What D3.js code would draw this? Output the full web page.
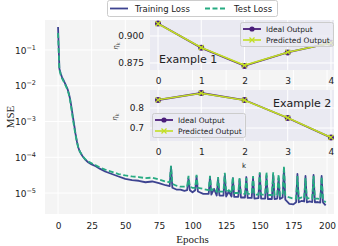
<!DOCTYPE html>
<html>
<head>
<meta charset="utf-8">
<script src="https://cdn.jsdelivr.net/npm/d3@7"></script>
<style>
  body { margin: 0; background: #fff; }
  svg { display: block; font-family: "DejaVu Sans", sans-serif; }
</style>
</head>
<body>
<div id="chart"></div>
<script>
var width = 338, height = 246;

// main loss curves
var epochs = [0,1,2,3,4,5,6,7,8,9,10,11,12,13,14,15,16,18,20,22,25,28,31,35,40,45,50,55,60,65,70,75,80,
  83,84,85,88,91,94,96,97,98,100,102,103,104,108,112,113,114,116,118,119,120,123,124,125,127,129,130,131,
  134,135,136,139,140,141,144,145,146,149,150,151,154,155,156,159,160,161,163,164,165,167,168,169,172,175,
  177,178,179,181,183,184,185,187,189,190,191,193,195,196,197,199];
var trainLoss = [0.44,0.03,0.022,0.017,0.0145,0.012,0.01,0.0082,0.0062,0.0042,0.0025,0.0014,8e-4,4.5e-4,2.8e-4,1.9e-4,1.5e-4,1.1e-4,8.8e-5,7.4e-5,6.3e-5,5.6e-5,4.8e-5,4.0e-5,3.4e-5,2.9e-5,2.5e-5,2.3e-5,2.2e-5,2.0e-5,2.1e-5,1.9e-5,1.65e-5,
  1.55e-5,5.5e-5,1.4e-5,1.25e-5,1.25e-5,1.15e-5,1.2e-5,2.6e-5,1.2e-5,1.05e-5,1.2e-5,2.9e-5,1.1e-5,9.5e-6,9.5e-6,2.8e-5,9e-6,1.3e-5,8.5e-6,2.5e-5,8.5e-6,8.5e-6,3.2e-5,8e-6,1.1e-5,8e-6,2.6e-5,7.8e-6,
  7.8e-6,2.4e-5,7.5e-6,7.5e-6,2.8e-5,7.3e-6,7.3e-6,2.6e-5,7e-6,7.2e-6,3.5e-5,7e-6,7e-6,3.0e-5,6.8e-6,6.8e-6,3.2e-5,6.8e-6,7e-6,2.6e-5,6.8e-6,7.5e-6,4.8e-5,6.5e-6,5e-6,4.8e-6,
  5.5e-6,3.4e-5,5.5e-6,6e-6,5.8e-6,3.0e-5,5.5e-6,5.8e-6,5.6e-6,3.2e-5,5.5e-6,5.6e-6,5.4e-6,3.0e-5,5.5e-6,4.5e-6];
var testLoss = [0.3,0.028,0.02,0.016,0.0135,0.0115,0.0095,0.0078,0.0058,0.0038,0.0022,0.0012,7e-4,4.2e-4,2.7e-4,1.9e-4,1.5e-4,1.1e-4,9e-5,7.8e-5,6.8e-5,6.0e-5,5.2e-5,4.5e-5,3.9e-5,3.4e-5,3.1e-5,2.9e-5,2.8e-5,2.6e-5,2.7e-5,2.4e-5,2.1e-5,
  2.0e-5,5.8e-5,1.8e-5,1.6e-5,1.5e-5,1.5e-5,1.5e-5,3.0e-5,1.5e-5,1.4e-5,1.4e-5,3.2e-5,1.4e-5,1.3e-5,1.2e-5,3.0e-5,1.2e-5,1.3e-5,1.1e-5,2.8e-5,1.1e-5,1.1e-5,3.7e-5,1.05e-5,1.2e-5,1.0e-5,2.8e-5,1.0e-5,
  1.0e-5,2.6e-5,9.5e-6,9.5e-6,2.6e-5,9.5e-6,9.5e-6,3.0e-5,9e-6,9e-6,3.8e-5,9e-6,9e-6,3.9e-5,8.8e-6,8.8e-6,3.8e-5,8.6e-6,8.8e-6,3.3e-5,8.5e-6,9e-6,5.6e-5,8.5e-6,7.5e-6,7e-6,
  7e-6,3.0e-5,7e-6,7.5e-6,7.2e-6,2.6e-5,7e-6,7.2e-6,7e-6,3.0e-5,7e-6,7e-6,6.8e-6,2.8e-5,6.5e-6,5.5e-6];
var epochTicks = [0,25,50,75,100,125,150,175,200];
var mseTicks = [1e-5,1e-4,1e-3,1e-2,1e-1];

// inset examples
var kValues = [0,1,2,3,4];
var ideal1 = [0.9116,0.889,0.8723,0.8848,0.8937];
var pred1 = [0.9113,0.8893,0.8728,0.885,0.8935];
var ideal2 = [0.84,0.875,0.84,0.75,0.652];
var pred2 = [0.841,0.874,0.839,0.751,0.653];
var ticks1 = [0.875,0.900];
var ticks2 = [0.7,0.8];

var trainColor = "#3d4390", testColor = "#27ab82";
var idealColor = "#4a1d7a", predColor = "#c2df23";

var svg = d3.select("#chart").append("svg")
  .attr("width", width)
  .attr("height", height);

svg.append("rect").attr("width", width).attr("height", height).attr("fill", "#fff");

// main axes
var plotL = 45, plotR = 334, plotT = 20, plotB = 214;
var xScale = d3.scaleLinear().domain([-9.7, 205.2]).range([plotL, plotR]);
var yScale = d3.scaleLog().domain([Math.pow(10,-5.587), Math.pow(10,-0.161)]).range([plotB, plotT]);

svg.append("rect")
  .attr("x", plotL).attr("y", plotT)
  .attr("width", plotR - plotL).attr("height", plotB - plotT)
  .attr("fill", "#f4f4f4");

svg.append("g")
  .selectAll("line").data(epochTicks).enter().append("line")
  .attr("x1", function(d) { return xScale(d); })
  .attr("x2", function(d) { return xScale(d); })
  .attr("y1", plotT).attr("y2", plotB)
  .attr("stroke", "#fff").attr("stroke-width", 1);
svg.append("g")
  .selectAll("line").data(mseTicks).enter().append("line")
  .attr("x1", plotL).attr("x2", plotR)
  .attr("y1", function(d) { return yScale(d); })
  .attr("y2", function(d) { return yScale(d); })
  .attr("stroke", "#fff").attr("stroke-width", 1);

var xAxis = svg.append("g")
  .attr("transform", "translate(0," + plotB + ")")
  .call(d3.axisBottom(xScale).tickValues(epochTicks).tickSize(0).tickPadding(9));
xAxis.select(".domain").remove();
xAxis.selectAll("text").style("font-size", "9px").style("font-family", "DejaVu Sans").attr("fill", "#222");

var yAxis = svg.append("g")
  .attr("transform", "translate(" + plotL + ",0)")
  .call(d3.axisLeft(yScale).tickValues(mseTicks).tickSize(0).tickFormat(""));
yAxis.select(".domain").remove();
yAxis.selectAll(".tick").each(function(d) {
  var t = d3.select(this).append("text")
    .attr("x", -9).attr("dy", "0.35em")
    .attr("text-anchor", "end")
    .style("font-size", "9px").style("font-family", "DejaVu Sans")
    .attr("fill", "#222");
  t.append("tspan").text("10");
  t.append("tspan").attr("dy", "-4").style("font-size", "6.5px")
    .text("\u2212" + Math.round(-Math.log10(d)));
});

svg.append("text")
  .text("Epochs")
  .attr("x", (xScale(0) + xScale(200)) / 2).attr("y", 243)
  .attr("text-anchor", "middle")
  .style("font-family", "Liberation Serif").style("font-size", "11px")
  .attr("fill", "#222");
svg.append("text")
  .text("MSE")
  .attr("transform", "translate(14,117) rotate(-90)")
  .attr("text-anchor", "middle")
  .style("font-family", "Liberation Serif").style("font-size", "11px")
  .attr("fill", "#222");

var lossLine = function(values) {
  return d3.line()
    .x(function(d, i) { return xScale(epochs[i]); })
    .y(function(d) { return yScale(d); })(values);
};
svg.append("path").attr("d", lossLine(trainLoss))
  .attr("fill", "none").attr("stroke", trainColor).attr("stroke-width", 1.8)
  .attr("stroke-linejoin", "round");
svg.append("path").attr("d", lossLine(testLoss))
  .attr("fill", "none").attr("stroke", testColor).attr("stroke-width", 1.8)
  .attr("stroke-dasharray", "5,2.5");

// top legend
var lg = svg.append("g");
lg.append("rect").attr("x", 107.5).attr("y", 0.5).attr("width", 170).attr("height", 16)
  .attr("rx", 2).attr("fill", "#fff").attr("stroke", "#ccc");
lg.append("line").attr("x1", 110).attr("x2", 128).attr("y1", 8.5).attr("y2", 8.5)
  .attr("stroke", trainColor).attr("stroke-width", 1.8);
lg.append("text").text("Training Loss").attr("x", 135).attr("y", 11.5)
  .style("font-size", "8.5px").attr("fill", "#222");
lg.append("line").attr("x1", 205).attr("x2", 225).attr("y1", 8.5).attr("y2", 8.5)
  .attr("stroke", testColor).attr("stroke-width", 1.8).attr("stroke-dasharray", "5,2.5");
lg.append("text").text("Test Loss").attr("x", 234).attr("y", 11.5)
  .style("font-size", "8.5px").attr("fill", "#222");

// inset helper
function drawInset(y0, y1, yDomain, yTicks, tickFmt, ideal, pred, labelX, labelY, legendX, legendY) {
  var ix = d3.scaleLinear().domain([-0.185, 4.07]).range([150, 334]);
  var iy = d3.scaleLinear().domain(yDomain).range([y1, y0]);
  var g = svg.append("g");
  g.append("rect").attr("x", 150).attr("y", y0).attr("width", 184).attr("height", y1 - y0)
    .attr("fill", "#eaeaf2");
  g.selectAll(".vg").data(kValues).enter().append("line")
    .attr("x1", function(d) { return ix(d); }).attr("x2", function(d) { return ix(d); })
    .attr("y1", y0).attr("y2", y1).attr("stroke", "#fff").attr("stroke-width", 1);
  g.selectAll(".hg").data(yTicks).enter().append("line")
    .attr("x1", 150).attr("x2", 334)
    .attr("y1", function(d) { return iy(d); }).attr("y2", function(d) { return iy(d); })
    .attr("stroke", "#fff").attr("stroke-width", 1);

  var ax = g.append("g").attr("transform", "translate(0," + y1 + ")")
    .call(d3.axisBottom(ix).tickValues(kValues).tickSize(0).tickPadding(8).tickFormat(d3.format("d")));
  ax.select(".domain").remove();
  ax.selectAll("text").style("font-size", "9px").style("font-family", "DejaVu Sans").attr("fill", "#222");
  var ay = g.append("g").attr("transform", "translate(150,0)")
    .call(d3.axisLeft(iy).tickValues(yTicks).tickSize(0).tickPadding(6).tickFormat(d3.format(tickFmt)));
  ay.select(".domain").remove();
  ay.selectAll("text").style("font-size", "9px").style("font-family", "DejaVu Sans").attr("fill", "#222");

  var eta = g.append("text")
    .attr("transform", "translate(" + labelX + "," + labelY + ") rotate(-90)")
    .attr("text-anchor", "middle")
    .style("font-size", "7px").attr("fill", "#333");
  eta.append("tspan").text("\u03b7").style("font-style", "italic");
  eta.append("tspan").text("k").attr("dy", 2).style("font-size", "5px");

  var line = d3.line().x(function(d, i) { return ix(kValues[i]); }).y(function(d) { return iy(d); });
  g.append("path").attr("d", line(ideal)).attr("fill", "none")
    .attr("stroke", idealColor).attr("stroke-width", 1.8);
  g.selectAll(".dot").data(ideal).enter().append("circle")
    .attr("cx", function(d, i) { return ix(kValues[i]); })
    .attr("cy", function(d) { return iy(d); })
    .attr("r", 3).attr("fill", idealColor);
  g.append("path").attr("d", line(pred)).attr("fill", "none")
    .attr("stroke", predColor).attr("stroke-width", 1.6);
  g.selectAll(".xm").data(pred).enter().append("path")
    .attr("d", function(d, i) {
      var cx = ix(kValues[i]), cy = iy(d), s = 2.5;
      return "M" + (cx - s) + "," + (cy - s) + "L" + (cx + s) + "," + (cy + s) +
        "M" + (cx - s) + "," + (cy + s) + "L" + (cx + s) + "," + (cy - s);
    })
    .attr("stroke", predColor).attr("stroke-width", 1.2);

  // legend
  var l = g.append("g").attr("transform", "translate(" + legendX + "," + legendY + ")");
  l.append("rect").attr("x", 0.5).attr("y", 0.5).attr("width", 93).attr("height", 24).attr("rx", 2)
    .attr("fill", "#eaeaf2").attr("fill-opacity", 0.8).attr("stroke", "#ccc");
  l.append("line").attr("x1", 3).attr("x2", 21).attr("y1", 7).attr("y2", 7)
    .attr("stroke", idealColor).attr("stroke-width", 1.8);
  l.append("circle").attr("cx", 12).attr("cy", 7).attr("r", 2.6).attr("fill", idealColor);
  l.append("text").text("Ideal Output").attr("x", 26).attr("y", 9.8)
    .style("font-size", "7.5px").attr("fill", "#222");
  l.append("line").attr("x1", 3).attr("x2", 21).attr("y1", 18).attr("y2", 18)
    .attr("stroke", predColor).attr("stroke-width", 1.6);
  l.append("path").attr("d", "M9.5,15.5L14.5,20.5M9.5,20.5L14.5,15.5")
    .attr("stroke", predColor).attr("stroke-width", 1.2);
  l.append("text").text("Predicted Output").attr("x", 26).attr("y", 20.8)
    .style("font-size", "7.5px").attr("fill", "#222");
  return g;
}

var g1 = drawInset(20, 70, [0.8685, 0.9148], ticks1, ".3f", ideal1, pred1, 118, 46, 240, 22);
g1.append("text").text("Example 1").attr("x", 159).attr("y", 63)
  .style("font-size", "11px").attr("fill", "#222");

var g2 = drawInset(90, 141, [0.635, 0.89], ticks2, ".1f", ideal2, pred2, 117, 117, 152, 113);
g2.append("text").text("Example 2").attr("x", 273).attr("y", 107)
  .style("font-size", "11px").attr("fill", "#222");
svg.append("text").text("k").attr("x", 244).attr("y", 168)
  .attr("text-anchor", "middle").style("font-size", "7px").attr("fill", "#222");
</script>
</body>
</html>
